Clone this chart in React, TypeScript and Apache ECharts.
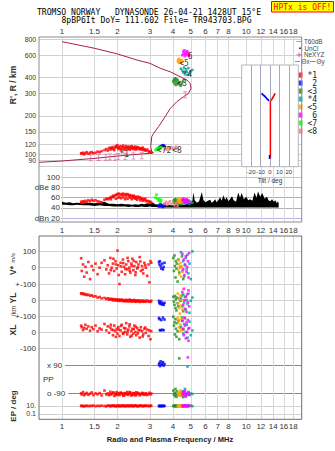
import React, { useEffect, useRef } from "react";
import * as echarts from "echarts";

const FONT = "Liberation Sans";
const MONO = "DejaVu Sans Mono";

// ---- tick definitions ----
const freqTicks = [1, 1.5, 2, 3, 4, 5, 6, 7, 8, 10, 12, 14, 16, 18];
const freqTicksMid = [1, 1.5, 2, 3, 4, 5, 6, 7, 8, 9, 10, 12, 14, 16, 18];
const heightTicks = [80, 90, 100, 120, 150, 200, 300, 400, 600, 800];
const dbTicks = [20, 40, 60, 80, 100];
const velTicks = [0, 100];
const ylTicks = [-100, 0, 100];
const xlTicks = [-100, 0];
const ppTicks = [-90, 90];
const epTicks = [0.1, 10];
const tiltTicks = [-20, -10, 0, 10, 20];

// ---- traces ----
const traceNames = ["*1", "\u00a02", "<3", "*4", "<5", "\u00a06", "<7", "<8"];
const traceColors = ["#ff0000", "#0000ff", "#228b22", "#00a0a0", "#ffa500", "#ff00ff", "#00ff00", "#f08080"];

// rows: [freq MHz, height km, amplitude dB, V* m/s, YL km, XL km, PP deg, EP deg]
const trace1: number[][] = [
  [1.27, 102, 52, 58, 42, 40, -88, 12], [1.28, 101, 50, -20, 38, 30, -95, 9],
  [1.30, 103, 53, 20, 41, 12, -80, 11], [1.32, 100, 51, -55, 35, 25, -100, 8],
  [1.34, 102, 54, 5, 37, 45, -92, 10], [1.36, 104, 52, -30, 31, 20, -85, 12],
  [1.39, 101, 55, 35, 33, 35, -97, 9], [1.42, 103, 53, -70, 27, 8, -90, 11],
  [1.45, 104, 56, 10, 29, 30, -82, 10], [1.48, 102, 54, -15, 22, 18, -99, 13],
  [1.52, 103, 55, 25, 24, 40, -88, 9], [1.56, 105, 53, -40, 15, 5, -94, 11],
  [1.60, 104, 52, 0, 19, 22, -86, 10], [1.64, 106, 51, 30, 10, 15, -101, 12],
  [1.70, 108, 56, 45, 13, 50, -70, 10], [1.74, 110, 58, -10, 6, 10, -95, 8],
  [1.77, 107, 57, 15, 11, 35, -88, 14], [1.80, 112, 59, -35, 2, -5, -100, 11],
  [1.83, 109, 60, 60, 8, 28, -78, 9], [1.84, 113, 57, -15, 3, 45, -94, 10],
  [1.86, 111, 62, 0, 5, 15, -92, 12], [1.89, 114, 61, 25, -2, -20, -85, 10],
  [1.90, 110, 64, 55, 6, 12, -82, 11], [1.92, 108, 63, -20, 0, 40, -104, 13],
  [1.95, 113, 65, 40, 4, 5, -90, 9], [1.96, 116, 58, 20, -3, -30, -98, 9],
  [1.98, 115, 66, -5, 2, 20, -80, 11], [2.00, 118, 67, 105, -4, -10, -96, 10],
  [2.02, 110, 60, 15, 3, 30, -87, 12], [2.03, 114, 68, -45, -1, 15, -91, 12],
  [2.05, 112, 62, -100, -6, -25, -99, 8], [2.08, 116, 67, 30, 2, 10, -83, 11],
  [2.09, 108, 59, 8, -3, 38, -86, 10], [2.11, 111, 65, -25, 1, 45, -93, 10],
  [2.14, 114, 68, 50, -7, -5, -88, 14], [2.15, 117, 61, 28, 0, -12, -103, 11],
  [2.17, 109, 66, 5, -5, 25, -101, 9], [2.20, 113, 57, -40, -2, 0, -86, 11],
  [2.21, 110, 67, -8, -8, 22, -89, 9], [2.23, 116, 63, 20, 1, 55, -95, 10],
  [2.26, 112, 67, -10, -4, -15, -79, 12], [2.27, 114, 58, 60, -9, 2, -92, 12],
  [2.29, 110, 66, 40, -1, 15, -97, 9], [2.32, 115, 63, 0, -6, 35, -90, 11],
  [2.33, 109, 65, -18, 2, 48, -80, 10], [2.35, 113, 60, -30, -7, -30, -84, 10],
  [2.38, 111, 64, 25, -3, 5, -102, 13], [2.39, 116, 57, 12, -10, -22, -96, 11],
  [2.41, 114, 63, 55, -2, 20, -91, 10], [2.44, 110, 61, -15, -5, -10, -86, 9],
  [2.45, 113, 64, 42, -8, 18, -88, 10], [2.47, 112, 59, 10, 0, 40, -98, 11],
  [2.50, 115, 62, -45, -11, 0, -89, 12], [2.51, 109, 58, -28, -4, 32, -101, 12],
  [2.53, 111, 61, 35, -6, -20, -81, 10], [2.56, 113, 56, -5, -9, 25, -94, 9],
  [2.58, 114, 62, 3, -2, -8, -85, 9], [2.60, 110, 59, 20, -7, 10, -88, 11],
  [2.64, 112, 61, 65, -12, -35, -100, 10], [2.66, 111, 55, 38, -3, 12, -93, 11],
  [2.68, 109, 58, -20, -8, 30, -92, 13], [2.72, 111, 59, 10, -5, 5, -85, 10],
  [2.74, 113, 54, -12, -10, -28, -87, 10], [2.76, 108, 57, -35, -4, -15, -96, 9],
  [2.80, 110, 56, 30, -11, 20, -90, 11], [2.83, 108, 58, 15, -6, 28, -97, 12],
  [2.85, 107, 53, 0, -9, -5, -87, 10], [2.90, 109, 54, -50, -3, 15, -99, 12],
  [2.95, 106, 53, 20, -10, -25, -91, 9], [2.98, 104, 51, -90, -7, 10, -84, 11],
  [3.02, 105, 52, 40, -12, -45, -95, 10], [3.05, 103, 50, 30, -5, 5, -89, 12],
];
const trace2: number[][] = [
  [3.36, 112, 44, 35, -5, 88, 95, 10], [3.38, 114, 46, 20, -20, 80, 105, 9],
  [3.40, 113, 43, 40, -15, 12, 85, 11], [3.43, 115, 47, 10, -25, 10, 115, 10],
  [3.46, 116, 45, -5, -10, 75, 92, 9], [3.50, 117, 44, 25, -28, 14, 100, 10],
  [3.53, 118, 42, -10, -22, 90, 110, 11], [3.56, 117, 45, 5, -30, 11, 88, 10],
  [3.60, 116, 47, 30, -18, 78, 98, 10],
];
const trace3: number[][] = [
  [4.02, 372, 52, 60, 20, 95, -70, 10], [4.05, 385, 55, -20, -10, 40, -95, 11],
  [4.08, 360, 50, 75, -30, 60, -85, 9], [4.10, 395, 57, 10, 25, -15, -105, 10],
  [4.13, 378, 53, -60, -50, 80, -60, 12], [4.15, 350, 48, 40, 5, 20, -90, 10],
  [4.18, 390, 56, -5, -65, -30, -110, 9], [4.20, 365, 51, 25, 15, 55, -75, 11],
  [4.24, 382, 54, -85, -20, 5, -98, 10], [4.28, 355, 49, 50, -40, 70, -88, 10],
  [4.33, 370, 52, -30, 10, -45, 134, 12], [4.40, 345, 47, 5, -5, 30, -100, 10],
  [4.48, 360, 50, 70, 28, 90, -80, 9], [4.55, 375, 53, -70, -70, 15, -112, 11],
];
const trace4: number[][] = [
  [4.42, 470, 55, 95, 10, 30, -85, 10], [4.50, 455, 52, -20, -40, 70, -100, 11],
  [4.55, 440, 57, 40, 35, -10, -75, 9], [4.60, 480, 50, -55, -15, 50, -95, 10],
  [4.65, 425, 54, 15, 20, 85, -60, 12], [4.70, 465, 49, 60, -60, 0, -105, 10],
  [4.75, 445, 56, -10, 0, 45, -90, 9], [4.80, 420, 51, 80, -25, -35, 82, 11],
  [4.85, 475, 53, -35, 40, 20, -80, 10], [4.92, 430, 48, 25, -80, 65, -98, 10],
  [5.00, 450, 52, -70, -5, -20, -88, 12], [5.10, 460, 50, 100, 15, 10, -92, 9],
];
const trace5: number[][] = [
  [4.25, 540, 54, 45, 40, 90, -85, 10], [4.28, 555, 57, -15, -20, 60, -95, 11],
  [4.30, 525, 52, 20, 10, 30, -78, 9], [4.33, 560, 55, -40, -50, 75, -100, 10],
  [4.36, 530, 50, 0, -85, 5, -90, 12], [4.40, 545, 58, 30, 25, 45, -70, 10],
  [4.43, 520, 53, -55, -35, 20, -105, 9], [4.46, 550, 56, 10, 0, 85, -88, 11],
  [4.50, 535, 51, -25, -60, 10, -96, 10],
];
const trace6: number[][] = [
  [4.50, 600, 55, 85, 50, 70, -92, 10], [4.55, 640, 58, -10, -30, 20, -80, 11],
  [4.58, 615, 52, 50, 70, -20, -100, 9], [4.62, 655, 56, -45, 0, 90, -85, 10],
  [4.65, 590, 50, 20, -55, 40, -72, 12], [4.70, 630, 54, 70, 20, -40, -108, 10],
  [4.74, 610, 57, -25, -75, 60, -90, 9], [4.78, 645, 53, 5, 35, 0, -95, 11],
  [4.82, 600, 51, 40, -15, 75, 140, 10], [4.86, 625, 55, -60, 60, -55, -82, 10],
  [4.90, 595, 52, 90, -40, 25, -98, 12],
];
const trace7: number[][] = [
  [3.22, 108, 60], [3.26, 110, 66], [3.30, 112, 58], [3.34, 109, 54],
  [3.38, 113, 57], [3.42, 111, 52], [3.46, 114, 55],
];
const trace8: number[][] = [
  [3.60, 110, 48], [3.66, 112, 52], [3.72, 109, 46], [3.78, 113, 50], [3.85, 111, 53],
  [3.92, 114, 47], [4.00, 110, 51], [4.08, 112, 45], [4.16, 115, 49], [4.24, 111, 44],
];
const traces = [trace1, trace2, trace3, trace4, trace5, trace6, trace7, trace8];

// ---- plasma frequency profile ----
const profileFreq = [0.75, 1.0, 1.5, 2.0, 2.55, 3.0, 3.14, 3.07, 3.03, 3.07, 3.14, 3.34, 3.63, 3.86, 4.2, 4.56, 4.86, 5.02, 4.96, 4.76, 4.38, 3.86, 3.41, 3.0, 2.55, 2.0, 1.5, 1.0];
const profileHeight = [86.6, 88.7, 93, 97, 100, 102, 103, 105, 115, 137.6, 146, 165, 197.5, 228, 259, 283, 301, 330, 361, 383, 407, 445, 474, 518, 550, 614, 680, 766];

// ---- NeXYZ markers ----
const nexFreq = [1.43, 1.58, 1.73, 1.82, 1.94, 2.02, 2.2, 2.44, 2.71, 4.66];
const nexHeight = [94, 94.5, 95, 95.5, 95, 96, 96.5, 97, 97.5, 293];

// ---- trace tags ----
const tagText = ["*1", "<72", "<8", "6", "<5", "*4", "<3"];
const tagFreq = [2.18, 3.58, 4.21, 4.96, 4.6, 4.79, 4.48];
const tagHeight = [100, 107, 107, 584, 520, 425, 361];

// ---- noise (dBe panel) ----
const noiseFreq = [1.0, 1.05, 1.1, 1.15, 1.2, 1.3, 1.4, 1.5, 1.6, 1.7, 1.8, 1.9, 2.0, 2.1, 2.2, 2.3, 2.4, 2.5, 2.6, 2.7, 2.8, 2.9, 3.0, 3.1, 3.2, 3.4, 3.6, 3.8, 4.0, 4.2, 4.4, 4.6, 4.8, 5.0, 5.1, 5.17, 5.25, 5.4, 5.55, 5.74, 5.85, 6.0, 6.2, 6.37, 6.5, 6.65, 6.78, 6.9, 7.05, 7.22, 7.35, 7.52, 7.68, 7.84, 8.0, 8.2, 8.37, 8.55, 8.8, 9.05, 9.25, 9.45, 9.7, 10.0, 10.25, 10.5, 10.8, 11.1, 11.35, 11.6, 11.9, 12.2, 12.6, 12.96, 13.2, 13.5, 13.8, 14.1, 14.4, 14.65, 14.85, 15.0];
const noiseLow = [46, 46, 45, 45, 46, 45, 45, 44, 45, 44, 44, 43, 43, 43, 43, 42, 43, 42, 42, 43, 42, 42, 43, 42, 42, 41, 41, 41, 41, 41, 41, 41, 41, 41, 41, 41, 41, 41, 41, 41, 41, 41, 41, 41, 41, 41, 41, 41, 41, 41, 41, 41, 41, 41, 41, 41, 41, 41, 41, 41, 41, 41, 41, 41, 41, 41, 41, 41, 41, 41, 41, 41, 41, 41, 41, 41, 41, 41, 41, 41, 41, 41];
const noiseHigh = [52, 50, 51, 49, 50, 49, 50, 49, 50, 52, 48, 48, 47, 48, 47, 47, 46, 47, 46, 48, 47, 49, 48, 51, 47, 46, 45, 46, 45, 46, 47, 46, 48, 50, 54, 70, 55, 50, 53, 71, 56, 51, 54, 56, 50, 53, 57, 51, 55, 61, 54, 65, 56, 61, 53, 58, 63, 55, 52, 70, 60, 69, 57, 62, 55, 57, 54, 70, 60, 72, 62, 69, 58, 62, 55, 53, 57, 52, 55, 49, 53, 49];

// ---- tilt inset ----
const tiltStem = [[0.4, 93], [0.4, 262]];
const tiltStemBlue = [[-0.5, 92], [-0.5, 99]];
const tiltBlueArm = [[-9, 301], [-7, 292], [-5, 283], [-3, 272], [-1, 263]];
const tiltRedArm = [[1, 264], [2.5, 275], [4, 288], [5.4, 301]];

const lg = (v: number) => Math.log10(v);
const XMIN = lg(0.75);
const XMAX = lg(20);
const fmtF = (v: number) => String(Math.round(Math.pow(10, v) * 10) / 10);

const L = 39;
const W = 262.7;
const labelStyle = { fontSize: 8, color: "#333", fontFamily: FONT };

function freqAxis(gi: number, labels: number[] | null, position: string, margin: number) {
  return {
    type: "value", gridIndex: gi, min: XMIN, max: XMAX, position,
    axisLine: { show: false },
    axisTick: { show: false, customValues: freqTicks.map(lg) },
    splitLine: { show: true, lineStyle: { color: "#d8d8d8", width: 1 } },
    axisLabel: labels
      ? { show: true, customValues: labels.map(lg), formatter: fmtF, margin, ...labelStyle }
      : { show: false },
  };
}

function valAxis(gi: number, min: number, max: number, ticks: number[], fmt: (v: number) => string, extra: any = {}) {
  return {
    type: "value", gridIndex: gi, min, max,
    axisLine: { show: false },
    axisTick: { show: false, customValues: ticks },
    splitLine: { show: true, lineStyle: { color: "#d0d0d0", width: 1 } },
    axisLabel: { show: true, customValues: ticks, formatter: fmt, margin: 3, ...labelStyle, ...(extra.label || {}) },
    ...(extra.axis || {}),
  };
}

function buildOption() {
  const series: any[] = [];

  // noise band
  series.push({
    type: "custom", xAxisIndex: 1, yAxisIndex: 1, z: 1, silent: true,
    data: [[lg(noiseFreq[0]), noiseLow[0]]],
    renderItem: (_p: any, api: any) => {
      const top = noiseFreq.map((f, i) => api.coord([lg(f), noiseHigh[i]]));
      const bot = noiseFreq.map((f, i) => api.coord([lg(f), noiseLow[i]])).reverse();
      return { type: "polygon", shape: { points: top.concat(bot) }, style: { fill: "#000" } };
    },
  });

  // profile
  series.push({
    type: "line", xAxisIndex: 0, yAxisIndex: 0, z: 2, silent: true, symbol: "none",
    data: profileFreq.map((f, i) => [lg(f), lg(profileHeight[i])]),
    lineStyle: { color: "#a8204c", width: 1 },
  });

  // NeXYZ
  series.push({
    type: "scatter", xAxisIndex: 0, yAxisIndex: 0, z: 3, silent: true,
    symbol: "path://M0,0H5V1H3V7H5V8H0V7H2V1H0Z", symbolSize: [4, 7],
    itemStyle: { color: "#e0609a" },
    data: nexFreq.map((f, i) => [lg(f), lg(nexHeight[i])]),
  });

  const panels = [
    { grid: 0, col: 1, tf: lg },
    { grid: 1, col: 2, tf: (v: number) => v },
    { grid: 2, col: 3, tf: (v: number) => v },
    { grid: 3, col: 4, tf: (v: number) => v },
    { grid: 4, col: 5, tf: (v: number) => v },
    { grid: 5, col: 6, tf: (v: number) => v },
    { grid: 6, col: 7, tf: lg },
  ];
  traces.forEach((rows, ti) => {
    panels.forEach((p) => {
      const data = rows.filter((r) => r[p.col] != null).map((r) => [lg(r[0]), p.tf(r[p.col])]);
      if (!data.length) return;
      series.push({
        type: "scatter", name: traceNames[ti], xAxisIndex: p.grid, yAxisIndex: p.grid,
        symbol: "rect", symbolSize: 2.6, z: 3 + (ti > 0 ? 1 : 0), silent: true,
        itemStyle: { color: traceColors[ti] }, data,
      });
    });
  });

  // tags
  series.push({
    type: "scatter", xAxisIndex: 0, yAxisIndex: 0, z: 6, silent: true, symbolSize: 1,
    itemStyle: { color: "rgba(0,0,0,0)" },
    data: tagText.map((t, i) => ({ name: t, value: [lg(tagFreq[i]), lg(tagHeight[i])] })),
    label: { show: true, position: "inside", formatter: "{b}", fontSize: 8, fontFamily: MONO, color: "#000" },
  });

  // tilt inset
  const insetLine = (d: number[][], color: string, w: number) => ({
    type: "line", xAxisIndex: 7, yAxisIndex: 7, z: 8, silent: true, symbol: "none",
    data: d.map((p) => [p[0], lg(p[1])]), lineStyle: { color, width: w },
  });
  series.push(insetLine(tiltStem, "#ff0000", 1.5));
  series.push(insetLine(tiltStemBlue, "#0000ff", 1.5));
  series.push(insetLine(tiltBlueArm, "#0000ff", 1.8));
  series.push(insetLine(tiltRedArm, "#ff0000", 1.8));

  const grids = [
    { left: L, top: 37, width: W, height: 135 },
    { left: L, top: 172, width: W, height: 50 },
    { left: L, top: 236, width: W, height: 48 },
    { left: L, top: 284, width: W, height: 32 },
    { left: L, top: 316, width: W, height: 40 },
    { left: L, top: 356, width: W, height: 44 },
    { left: L, top: 400, width: W, height: 19.3 },
    { left: 241.7, top: 65, width: 56.6, height: 101.7, show: true, backgroundColor: "#fff", borderColor: "#b4b4c4", borderWidth: 1, z: 5 },
  ];

  const xAxes: any[] = [
    freqAxis(0, freqTicks, "top", 2),
    freqAxis(1, freqTicksMid, "bottom", 4),
    freqAxis(2, null, "bottom", 3),
    freqAxis(3, null, "bottom", 3),
    freqAxis(4, null, "bottom", 3),
    freqAxis(5, null, "bottom", 3),
    freqAxis(6, freqTicks, "bottom", 3),
    {
      type: "value", gridIndex: 7, min: -30, max: 30, z: 6,
      axisLine: { show: false },
      axisTick: { show: false, customValues: tiltTicks },
      splitLine: { show: true, lineStyle: { color: "#a8a8bc", width: 1 } },
      axisLabel: { show: true, customValues: tiltTicks, margin: 2, fontSize: 6, color: "#333", fontFamily: FONT },
      name: "Tilt / deg", nameLocation: "middle", nameGap: 10,
      nameTextStyle: { fontSize: 6.5, color: "#333", fontFamily: FONT },
    },
  ];

  const yAxes: any[] = [
    valAxis(0, 1.8615, 2.921, heightTicks.map(lg), (v) => String(Math.round(Math.pow(10, v))), {
      label: { fontSize: 6.8 },
    }),
    valAxis(1, 12.4, 110.4, dbTicks, (v) => (v === 80 ? "dBe 80" : v === 20 ? "dBn 20" : String(v)), {
      label: { inside: true, align: "right", margin: 22, backgroundColor: "#fff", padding: [0, 1, 0, 14] },
      axis: { splitLine: { show: true, lineStyle: { color: ["#b4b4e6", "#b0b0b0", "#b0b0b0", "#b0b0b0", "#c4c4c4"], width: 1 } } },
    }),
    valAxis(2, -100, 194.5, velTicks, (v) => String(v)),
    valAxis(3, -100, 100, ylTicks, (v) => (v === 0 ? "0" : "+-100")),
    valAxis(4, -150, 100, xlTicks, (v) => String(v)),
    valAxis(5, -130, 149, ppTicks, (v) => (v > 0 ? "x 90" : "o -90"), {
      label: { inside: true, margin: 0, backgroundColor: "#fff", padding: [0, 3, 0, 8] },
      axis: { splitLine: { show: true, lineStyle: { color: "#8a8a8a", width: 1 } } },
    }),
    valAxis(6, -2.33, 2.5, epTicks.map(lg), (v) => (v > 0 ? "10." : "0.1"), {
      label: { fontSize: 7 },
    }),
    {
      type: "value", gridIndex: 7, min: 1.903, max: 2.7013, z: 6,
      axisLine: { show: false }, axisTick: { show: false }, axisLabel: { show: false }, splitLine: { show: false },
    },
  ];

  const rotText = (x: number, y: number, text: string, size: number) => ({
    type: "text", x, y, rotation: Math.PI / 2, z: 20,
    style: { text, fontSize: size, fontWeight: "bold", fontFamily: FONT, fill: "#333", align: "center", verticalAlign: "middle", textAlign: "center", textVerticalAlign: "middle" },
  });
  const plainText = (x: number, y: number, text: string, size: number, family: string, fill: string, align = "left", weight = "normal") => ({
    type: "text", x, y, z: 20,
    style: { text, fontSize: size, fontFamily: family, fontWeight: weight, fill, align, verticalAlign: "middle", textAlign: align, textVerticalAlign: "middle" },
  });

  const graphic: any[] = [
    // title
    plainText(149, 11.6, "TROMSO NORWAY\u00a0\u00a0\u00a0DYNASONDE 26-04-21 1428UT 15\u00b0E", 8.1, MONO, "#000", "center"),
    plainText(156.5, 20.4, "8pBP6It DoY= 111.602 File= TR943703.BPG", 8.1, MONO, "#000", "center"),
    // HPTx box
    { type: "rect", z: 20, shape: { x: 271.5, y: 1.5, width: 62, height: 10.5 }, style: { fill: "#ffff00", stroke: "#ff0000", lineWidth: 1 } },
    plainText(302.5, 7, "HPTx is OFF!", 8, MONO, "#ff0000", "center"),
    // plot boxes
    { type: "rect", z: 15, silent: true, shape: { x: 39, y: 37, width: W, height: 185 }, style: { fill: "none", stroke: "#8c8c8c", lineWidth: 1 } },
    { type: "rect", z: 15, silent: true, shape: { x: 39, y: 236, width: W, height: 183.3 }, style: { fill: "none", stroke: "#6e6e6e", lineWidth: 1 } },
    // y titles
    rotText(13, 85, "R', R / km", 8.5),
    {
      type: "text", x: 13, y: 264, rotation: Math.PI / 2, z: 20,
      style: { text: "{a|V*} {b|m/s}", rich: { a: { fontSize: 8.5, fontWeight: "bold", fontFamily: FONT, fill: "#333" }, b: { fontSize: 6, fontFamily: FONT, fill: "#333" } }, align: "center", verticalAlign: "middle", textAlign: "center", textVerticalAlign: "middle" },
    },
    rotText(13, 298, "YL", 8.5),
    {
      type: "text", x: 13, y: 311, rotation: Math.PI / 2, z: 20,
      style: { text: "/km", fontSize: 6.5, fontFamily: FONT, fill: "#333", align: "center", verticalAlign: "middle", textAlign: "center", textVerticalAlign: "middle" },
    },
    rotText(13, 330, "XL", 8.5),
    rotText(13, 406, "EP / deg", 8),
    plainText(43, 379.5, "PP", 8, FONT, "#333"),
    plainText(170, 439, "Radio and Plasma Frequency / MHz", 7.5, FONT, "#222", "center", "bold"),
    // legend extras
    { type: "line", z: 20, shape: { x1: 296.5, y1: 41.5, x2: 302, y2: 41.5 }, style: { stroke: "#a0a0a0", lineWidth: 1 } },
    plainText(304, 41.5, "T60dB", 6.3, FONT, "#444"),
    { type: "circle", z: 20, shape: { cx: 300, cy: 48.2, r: 0.8 }, style: { fill: "#000" } },
    plainText(304.5, 48.2, "UnCl", 6.3, FONT, "#444"),
    { type: "line", z: 20, shape: { x1: 296.5, y1: 54.8, x2: 302, y2: 54.8 }, style: { stroke: "#e0609a", lineWidth: 1 } },
    { type: "line", z: 20, shape: { x1: 299.2, y1: 52.5, x2: 299.2, y2: 57.1 }, style: { stroke: "#e0609a", lineWidth: 1 } },
    plainText(304, 54.8, "NeXYZ", 6.3, FONT, "#444"),
    { type: "line", z: 20, shape: { x1: 295, y1: 61.5, x2: 300, y2: 61.5 }, style: { stroke: "#e07090", lineWidth: 1 } },
    plainText(301.5, 61.5, "\u0398x", 6.3, FONT, "#444"),
    { type: "line", z: 20, shape: { x1: 310, y1: 61.5, x2: 315.5, y2: 61.5 }, style: { stroke: "#8080e0", lineWidth: 1 } },
    plainText(316.5, 61.5, "\u0398y", 6.3, FONT, "#444"),
  ];

  return {
    animation: false,
    backgroundColor: "#fff",
    grid: grids,
    xAxis: xAxes,
    yAxis: yAxes,
    legend: {
      data: traceNames.map((n) => ({ name: n, icon: "rect" })),
      orient: "vertical", left: 297.5, top: 71, itemWidth: 5, itemHeight: 5, itemGap: 0, padding: 0,
      selectedMode: false,
      textStyle: { fontSize: 8, lineHeight: 7.7, fontFamily: MONO, color: "#222" },
    },
    graphic,
    series,
  };
}

export default function App() {
  const ref = useRef<HTMLDivElement>(null);
  useEffect(() => {
    document.body.style.margin = "0";
    const chart = echarts.init(ref.current as HTMLDivElement, null, { renderer: "svg" });
    chart.setOption(buildOption() as any);
    return () => chart.dispose();
  }, []);
  return <div ref={ref} style={{ position: "fixed", left: 0, top: 0, width: 335, height: 451, background: "#fff" }} />;
}
